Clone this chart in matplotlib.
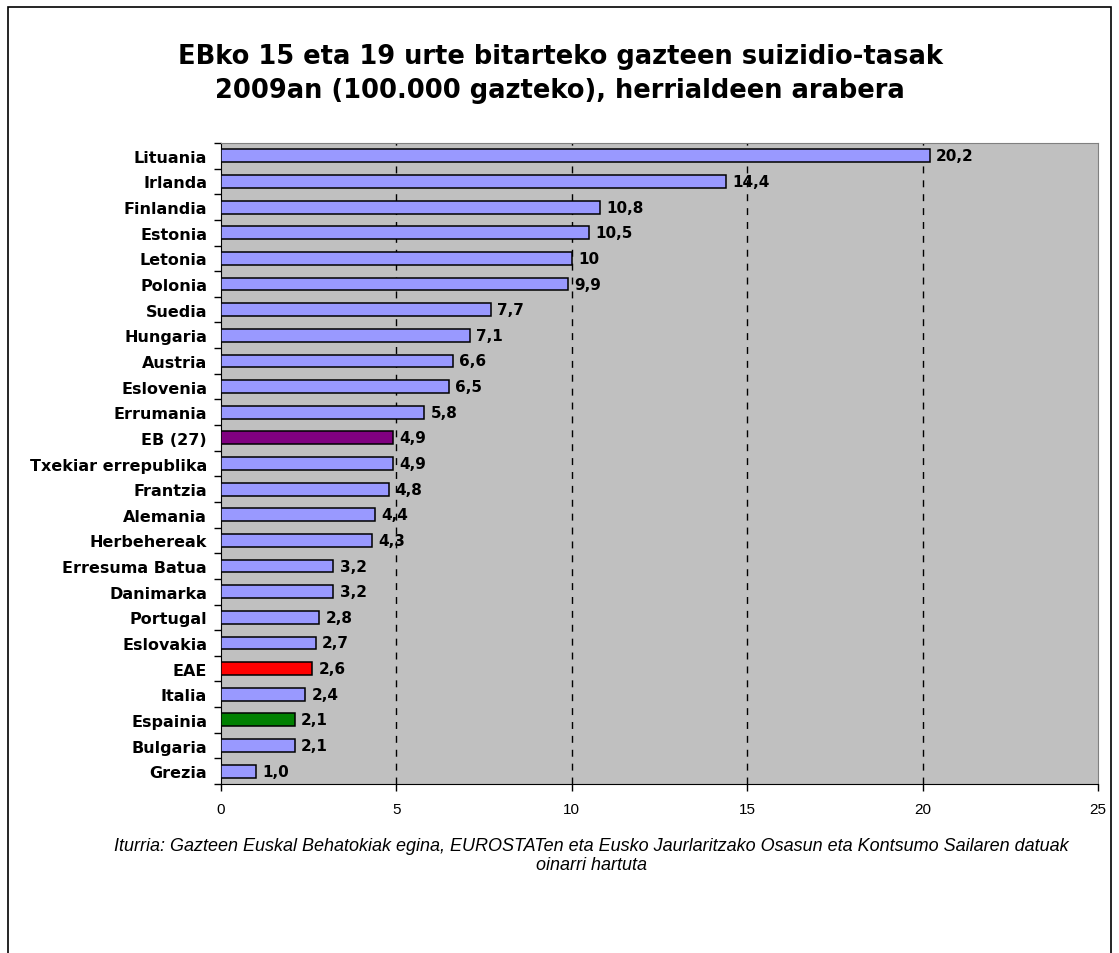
import matplotlib
matplotlib.use("Agg")
import matplotlib.pyplot as plt
from matplotlib.patches import Rectangle

categories = ["Lituania", "Irlanda", "Finlandia", "Estonia", "Letonia", "Polonia",
              "Suedia", "Hungaria", "Austria", "Eslovenia", "Errumania", "EB (27)",
              "Txekiar errepublika", "Frantzia", "Alemania", "Herbehereak",
              "Erresuma Batua", "Danimarka", "Portugal", "Eslovakia", "EAE",
              "Italia", "Espainia", "Bulgaria", "Grezia"]
values = [20.2, 14.4, 10.8, 10.5, 10.0, 9.9, 7.7, 7.1, 6.6, 6.5, 5.8, 4.9,
          4.9, 4.8, 4.4, 4.3, 3.2, 3.2, 2.8, 2.7, 2.6, 2.4, 2.1, 2.1, 1.0]
value_labels = ["20,2", "14,4", "10,8", "10,5", "10", "9,9", "7,7", "7,1", "6,6",
                "6,5", "5,8", "4,9", "4,9", "4,8", "4,4", "4,3", "3,2", "3,2",
                "2,8", "2,7", "2,6", "2,4", "2,1", "2,1", "1,0"]
highlight = {"EB (27)": "#800080", "EAE": "#FF0000", "Espainia": "#008000"}
base_color = "#9999FF"
xticks = [0, 5, 10, 15, 20, 25]
title = "EBko 15 eta 19 urte bitarteko gazteen suizidio-tasak\n2009an (100.000 gazteko), herrialdeen arabera"
source = ("Iturria: Gazteen Euskal Behatokiak egina, EUROSTATen eta Eusko Jaurlaritzako Osasun eta Kontsumo Sailaren datuak\n"
          "oinarri hartuta")

W, H = 1119, 954
fig = plt.figure(figsize=(W / 100, H / 100), dpi=100)
fig.patch.set_facecolor("white")

# outer frame
fig.patches.append(Rectangle((8 / W, -0.01), (1111 - 8) / W, (H - 8) / H + 0.01,
                             transform=fig.transFigure, fill=False,
                             edgecolor="black", linewidth=1.2))

left, right, top, bottom = 221, 1098, 144, 785
ax = fig.add_axes([left / W, 1 - bottom / H, (right - left) / W, (bottom - top) / H])
ax.set_facecolor("#C0C0C0")

n = len(categories)
ypos = list(range(n))
colors = [highlight.get(c, base_color) for c in categories]
ax.barh(ypos, values, height=0.5, color=colors, edgecolor="black", linewidth=1.1, zorder=3)

for y, v, lab in zip(ypos, values, value_labels):
    ax.text(v + 0.18, y, lab, va="center", ha="left", fontsize=11,
            fontweight="bold", family="DejaVu Sans", zorder=4)

ax.set_ylim(n - 0.5, -0.5)
ax.set_xlim(0, 25)

ax.set_yticks(ypos)
ax.set_yticklabels(categories, fontsize=11.5, fontweight="bold", family="DejaVu Sans")
ax.tick_params(axis="y", length=0, pad=10)
# category boundary ticks
ax.set_yticks([i - 0.5 for i in range(n + 1)], minor=True)
ax.tick_params(axis="y", which="minor", length=5, direction="out", width=1)

ax.set_xticks(xticks)
ax.set_xticklabels([str(t) for t in xticks], fontsize=11, family="Liberation Sans")
ax.tick_params(axis="x", length=5, direction="out", width=1, pad=8)

for t in xticks[1:-1]:
    ax.axvline(t, color="black", linewidth=1, linestyle=(0, (5, 5)), zorder=2)

ax.spines["left"].set_color("black")
ax.spines["bottom"].set_color("black")
ax.spines["top"].set_color("#808080")
ax.spines["right"].set_color("#808080")

fig.text(560 / W, 1 - 74 / H, title, ha="center", va="center", fontsize=18.5,
         fontweight="bold", family="DejaVu Sans", linespacing=1.4)
fig.text(591 / W, 1 - 856 / H, source, ha="center", va="center", fontsize=13,
         style="italic", family="Liberation Sans", linespacing=1.15)

fig.savefig("out.png", dpi=100)
